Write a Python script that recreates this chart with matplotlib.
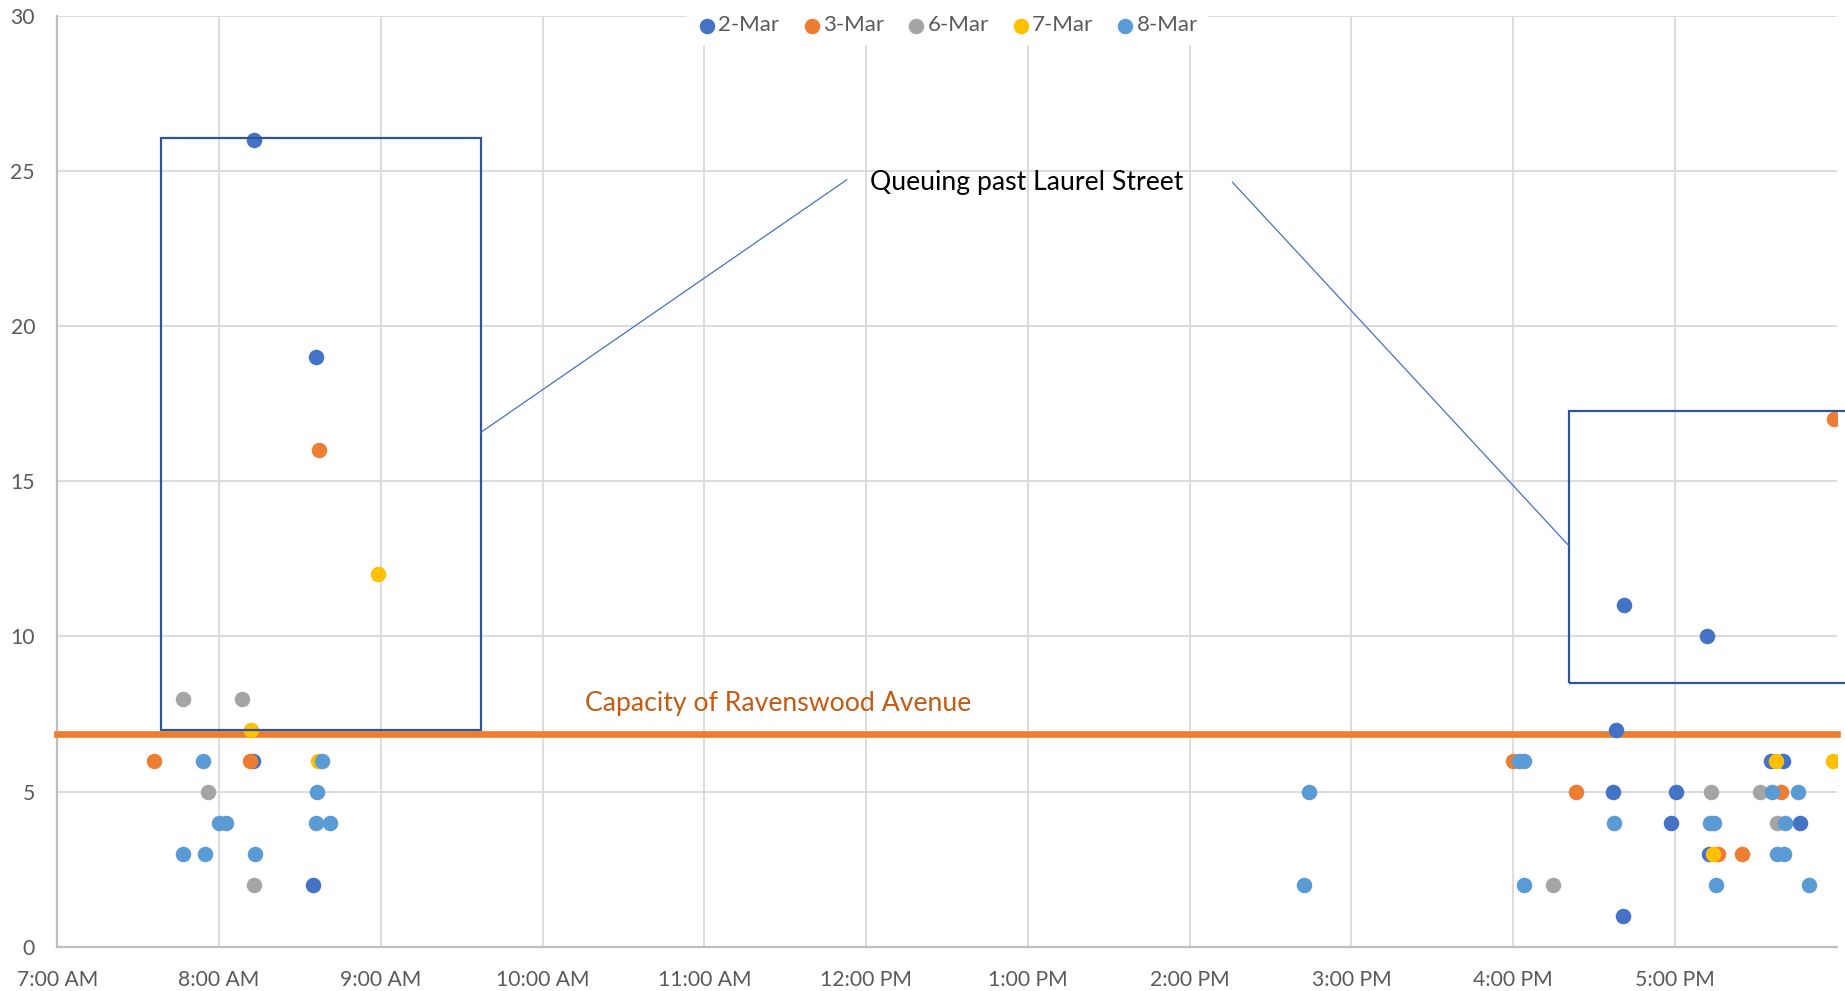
import matplotlib.pyplot as plt
from matplotlib.patches import Rectangle

plt.rcParams['font.family'] = ['Lato', 'DejaVu Sans']

# queue length (vehicles) observed at time of day
mar2_t = ["8:13", "8:36", "8:12.5", "8:35", "16:41", "17:12", "16:38.3", "17:35.5", "17:40",
          "16:37", "17:00.4", "16:58.5", "17:46.3", "17:12.7", "16:40.8"]
mar2_q = [26, 19, 6, 2, 11, 10, 7, 6, 6, 5, 5, 4, 4, 3, 1]

mar3_t = ["8:37", "7:35.8", "8:11.6", "17:59", "16:00", "16:23.4", "17:39.3", "17:15.8", "17:25"]
mar3_q = [16, 6, 6, 17, 6, 5, 5, 3, 3]

mar6_t = ["7:46.6", "8:08.5", "7:56", "8:13", "17:13.3", "17:31.6", "17:37.8", "16:14.7"]
mar6_q = [8, 8, 5, 2, 5, 5, 4, 2]

mar7_t = ["8:59", "8:12", "8:36.6", "17:37.4", "17:58.7", "17:14.2"]
mar7_q = [12, 7, 6, 6, 6, 3]

mar8_t = ["7:54", "8:38.3", "8:36.3", "8:00", "8:02.6", "8:35.8", "8:41.3", "7:46.8", "7:54.6",
          "8:13.3", "14:44.4", "14:42.5", "16:02", "16:04", "17:36", "17:45.5", "16:37.4",
          "17:13", "17:14.6", "17:41", "17:38", "17:40.5", "16:04.2", "17:15.4", "17:49.8"]
mar8_q = [6, 6, 5, 4, 4, 4, 4, 3, 3, 3, 5, 2, 6, 6, 5, 5, 4, 4, 4, 4, 3, 3, 2, 2, 2]

series = ["2-Mar", "3-Mar", "6-Mar", "7-Mar", "8-Mar"]
colors = ["#4472C4", "#ED7D31", "#A5A5A5", "#FFC000", "#5B9BD5"]
capacity = 6.85
hour_ticks = [7, 8, 9, 10, 11, 12, 13, 14, 15, 16, 17]
hour_labels = ["7:00 AM", "8:00 AM", "9:00 AM", "10:00 AM", "11:00 AM", "12:00 PM",
               "1:00 PM", "2:00 PM", "3:00 PM", "4:00 PM", "5:00 PM"]


def hrs(s):
    h, m = s.split(":")
    return int(h) + float(m) / 60


fig = plt.figure(figsize=(18.45, 9.91), dpi=100)
ax = fig.add_axes([57.3 / 1845, 44.3 / 991, (1836.7 - 57.3) / 1845, (946.7 - 16) / 991])

data = [(mar2_t, mar2_q), (mar3_t, mar3_q), (mar6_t, mar6_q), (mar7_t, mar7_q), (mar8_t, mar8_q)]
for (t, q), name, c in zip(data, series, colors):
    ax.scatter([hrs(x) for x in t], q, s=125, color=c, label=name, zorder=4, linewidths=0)

ax.axhline(capacity, color="#ED7D31", lw=4.8, zorder=3, clip_on=False)
ax.text(10.265, 7.83, "Capacity of Ravenswood Avenue", color="#C55A11", fontsize=19.2,
        va="center", ha="left")

# boxes around the queuing periods
ax.add_patch(Rectangle((hrs("7:38.4"), 7.0), hrs("9:37.1") - hrs("7:38.4"), 19.08,
                       fill=False, ec="#2F5597", lw=1.6, zorder=5))
ax.add_patch(Rectangle((hrs("16:20.6"), 8.49), 2.0, 17.26 - 8.49,
                       fill=False, ec="#2F5597", lw=1.6, zorder=5, clip_on=False))
ax.text(hrs("12:01.5"), 24.62, "Queuing past Laurel Street", fontsize=19.2, color="black",
        ha="left", va="center")
ax.plot([11.88, hrs("9:37.1")], [24.72, 16.58], color="#4472C4", lw=0.9, zorder=5)
ax.plot([14.265, hrs("16:20.6")], [24.64, 12.93], color="#4472C4", lw=0.9, zorder=5)

ax.set_xlim(7, 18)
ax.set_ylim(0, 30)
ax.set_xticks(hour_ticks)
ax.set_xticklabels(hour_labels)
ax.set_yticks(range(0, 31, 5))
ax.tick_params(length=0, labelsize=15.2, colors="#595959")
ax.tick_params(axis="x", pad=17)
ax.tick_params(axis="y", pad=16)
ax.grid(True, color="#D9D9D9", lw=1.3)
ax.set_axisbelow(True)
for s in ["top", "right"]:
    ax.spines[s].set_visible(False)
for s in ["left", "bottom"]:
    ax.spines[s].set_color("#BFBFBF")
    ax.spines[s].set_linewidth(1.6)

leg = ax.legend(loc="center", bbox_to_anchor=(0.5, 1 - 9.5 / 930.7), ncol=5, frameon=True,
                fontsize=16, handletextpad=0.0, columnspacing=0.95, markerscale=1.0,
                borderpad=0.4, fancybox=False, handlelength=1.0)
leg.get_frame().set_edgecolor("white")
leg.get_frame().set_facecolor("white")
leg.get_frame().set_alpha(1)
leg.set_zorder(10)
for txt in leg.get_texts():
    txt.set_color("#595959")

fig.savefig("out.png", dpi=100)
